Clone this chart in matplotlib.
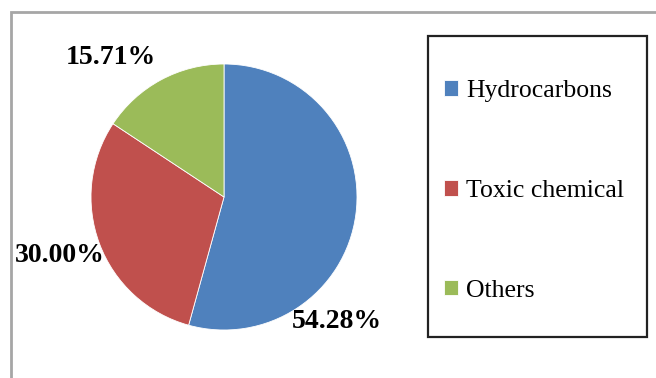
import matplotlib
matplotlib.use("Agg")
import matplotlib.pyplot as plt
from matplotlib.patches import Rectangle

categories = ["Hydrocarbons", "Toxic chemical", "Others"]
values = [54.28, 30.00, 15.71]
labels = ["54.28%", "30.00%", "15.71%"]
colors = ["#4F81BD", "#C0504D", "#9BBB59"]

W, H = 656, 378
fig = plt.figure(figsize=(W / 100, H / 100), dpi=100)
fig.patch.set_facecolor("white")

def px(x, y):
    return (x / W, 1 - y / H)

# outer chart border (gray, top and left visible)
fig.add_artist(Rectangle((10.5 / W, -0.1), 2.0, (H - 11.5) / H + 0.1,
                         transform=fig.transFigure, fill=False,
                         edgecolor="#A6A6A6", linewidth=2.0))

# pie axes
cx, cy, r = 224, 197, 133
ax = fig.add_axes([(cx - r) / W, 1 - (cy + r) / H, 2 * r / W, 2 * r / H])
wedges, _ = ax.pie(values, colors=colors, startangle=90, counterclock=False,
                   radius=1.0, wedgeprops=dict(linewidth=0.6, edgecolor="white"))
ax.set_xlim(-1, 1)
ax.set_ylim(-1, 1)
ax.set_aspect("equal")
ax.axis("off")

# data labels
label_pos = [(337, 322), (60, 256), (111, 58)]
for lab, (x, y) in zip(labels, label_pos):
    fig.text(*px(x, y), lab, ha="center", va="center", fontsize=20,
             fontweight="bold", family="Liberation Serif", color="black")

# legend box
lx0, ly0, lx1, ly1 = 428, 36, 647, 337
fig.add_artist(Rectangle(px(lx0, ly1), (lx1 - lx0) / W, (ly1 - ly0) / H,
                         transform=fig.transFigure, fill=False,
                         edgecolor="#222222", linewidth=1.6))

leg = fig.legend(wedges, categories, loc="upper left",
                 bbox_to_anchor=px(444, 80), frameon=False,
                 prop=dict(family="Liberation Serif", size=18.5),
                 handlelength=0.55, handleheight=0.55, handletextpad=0.3,
                 labelspacing=3.03, borderpad=0, borderaxespad=0)

fig.savefig("out.png", dpi=100, facecolor="white")
